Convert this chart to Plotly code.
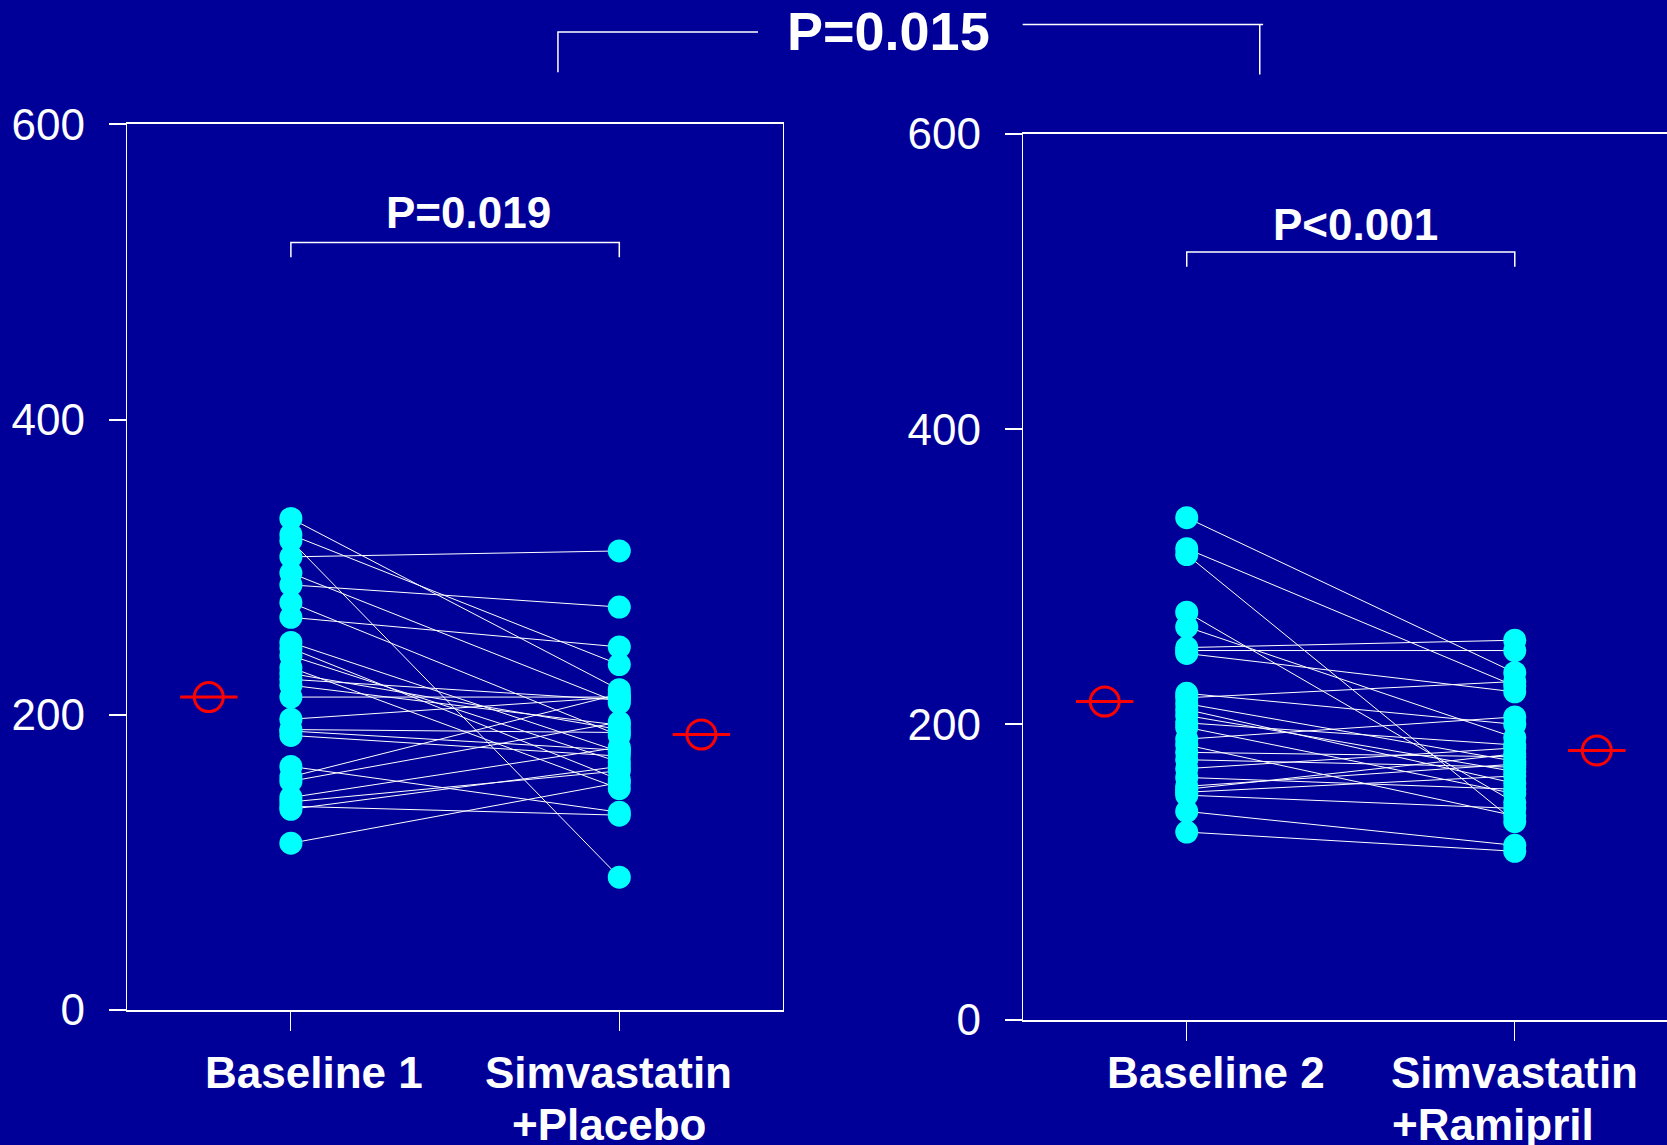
import plotly.graph_objects as go

# ---------------- data ----------------
categories_left = ["Baseline 1", "Simvastatin\n+Placebo"]
categories_right = ["Baseline 2", "Simvastatin\n+Ramipril"]

baseline1 = [333, 322, 318, 307, 296, 288, 276, 266, 249, 245, 240, 232, 228, 224,
             220, 212, 197, 190, 189, 186, 165, 158, 155, 144, 141, 138, 136, 113]
placebo = [217, 234, 90, 311, 208, 273, 186, 246, 175, 156, 168, 150, 190, 210,
           193, 212, 212, 188, 176, 172, 134, 214, 195, 178, 162, 132, 165, 154]

baseline2 = [340, 319, 315, 276, 266, 252, 250, 248, 221, 218, 214, 210, 206, 201,
             198, 190, 186, 181, 176, 170, 164, 158, 156, 154, 152, 141, 127]
ramipril = [235, 226, 134, 147, 191, 257, 250, 222, 200, 229, 175, 160, 168, 186,
            153, 205, 138, 178, 171, 184, 156, 173, 180, 165, 143, 118, 114]

mean_left = [212, 186.6]     # Baseline 1, Simvastatin+Placebo
mean_right = [215.4, 182.3]  # Baseline 2, Simvastatin+Ramipril

y_ticks = [0, 200, 400, 600]
p_inner_left = "P=0.019"
p_inner_right = "P<0.001"
p_top = "P=0.015"

# ---------------- style ----------------
BG = "#000099"
CYAN = "#00FFFF"
RED = "#FF0000"
FONT = "Arial, Liberation Sans, sans-serif"

fig = go.Figure()


def add_panel(base, treat, means, xa, ya):
    lx, ly = [], []
    for b, t in zip(base, treat):
        lx += [1, 2, None]
        ly += [b, t, None]
    fig.add_trace(go.Scatter(x=lx, y=ly, mode="lines", xaxis=xa, yaxis=ya,
                             line=dict(color="white", width=1), hoverinfo="skip",
                             showlegend=False))
    fig.add_trace(go.Scatter(x=[1] * len(base) + [2] * len(treat), y=base + treat,
                             mode="markers", xaxis=xa, yaxis=ya,
                             marker=dict(color=CYAN, size=23, line=dict(width=0)),
                             showlegend=False))
    fig.add_trace(go.Scatter(x=[0.75, 2.25], y=means, mode="markers", xaxis=xa, yaxis=ya,
                             marker=dict(symbol="line-ew-open", size=41, color=RED,
                                         line=dict(color=RED, width=3)),
                             showlegend=False))
    fig.add_trace(go.Scatter(x=[0.75, 2.25], y=means, mode="markers", xaxis=xa, yaxis=ya,
                             marker=dict(symbol="circle-open", size=29, color=RED,
                                         line=dict(color=RED, width=3)),
                             showlegend=False))


add_panel(baseline1, placebo, mean_left, "x", "y")
add_panel(baseline2, ramipril, mean_right, "x2", "y2")

xcommon = dict(tickvals=[1, 2], ticktext=["", ""], ticks="outside", ticklen=19,
               tickwidth=1, tickcolor="white", showline=True, linecolor="white",
               linewidth=2, showgrid=False, zeroline=False, fixedrange=True)
ycommon = dict(range=[0, 600], tickvals=y_ticks, ticks="outside", ticklen=17,
               tickwidth=1.5, tickcolor="white", showline=True, linecolor="white",
               linewidth=1, showgrid=False, zeroline=False, automargin=False,
               tickfont=dict(family=FONT, size=44, color="white"),
               ticklabelstandoff=15)

fig.update_layout(
    width=1667, height=1145, autosize=False,
    margin=dict(l=0, r=0, t=0, b=0, pad=0, autoexpand=False),
    paper_bgcolor=BG, plot_bgcolor=BG,
    showlegend=False,
    xaxis=dict(domain=[0.076, 0.470], range=[0.5, 2.5], anchor="y", mirror=True,
               automargin=False, **xcommon),
    yaxis=dict(domain=[0.1179, 0.8914], anchor="x", mirror=True, **ycommon),
    xaxis2=dict(domain=[0.6135, 1.0], range=[0.5, 2.464], anchor="y2", mirror=True,
                automargin=False, **xcommon),
    yaxis2=dict(domain=[0.1096, 0.8830], anchor="x2", mirror=False, **ycommon),
)

# brackets
for xr, yr in (("x", "y"), ("x2", "y2")):
    fig.add_shape(type="path", xref=xr, yref=yr, path="M 1,510 L 1,520 L 2,520 L 2,510",
                  line=dict(color="white", width=1.5))
fig.add_shape(type="path", xref="paper", yref="paper",
              path="M 0.3347,0.9369 L 0.3347,0.9721 L 0.4547,0.9721",
              line=dict(color="white", width=1.5))
fig.add_shape(type="path", xref="paper", yref="paper",
              path="M 0.6135,0.9786 L 0.7577,0.9786 M 0.7557,0.9786 L 0.7557,0.935",
              line=dict(color="white", width=1.5))

bold = dict(family=FONT, color="white")


def ann(text, x, y, size):
    fig.add_annotation(text=f"<b>{text}</b>", x=x, y=y, xref="paper", yref="paper",
                       xanchor="center", yanchor="middle", showarrow=False,
                       font=dict(size=size, **bold))


ann(p_top, 0.5332, 0.973, 54)
ann(p_inner_left, 0.2813, 0.8140, 44)
ann(p_inner_right, 0.8134, 0.8035, 44)

# category labels
lab_y1 = 0.063
lab_y2 = 0.018
ann(categories_left[0], 0.1881, lab_y1, 44)
l2 = categories_left[1].split("\n")
ann(l2[0], 0.3651, lab_y1, 44)
ann(l2[1], 0.3651, lab_y2, 44)
ann(categories_right[0], 0.7295, lab_y1, 44)
r2 = categories_right[1].split("\n")
ann(r2[0], 0.9088, lab_y1, 44)
ann(r2[1], 0.8954, lab_y2, 44)

fig.write_html(
    "out.html",
    config={"responsive": False, "displayModeBar": False},
    post_script="document.body.style.margin='0';document.body.style.overflow='hidden';"
                "document.body.style.background='#000099';",
)
